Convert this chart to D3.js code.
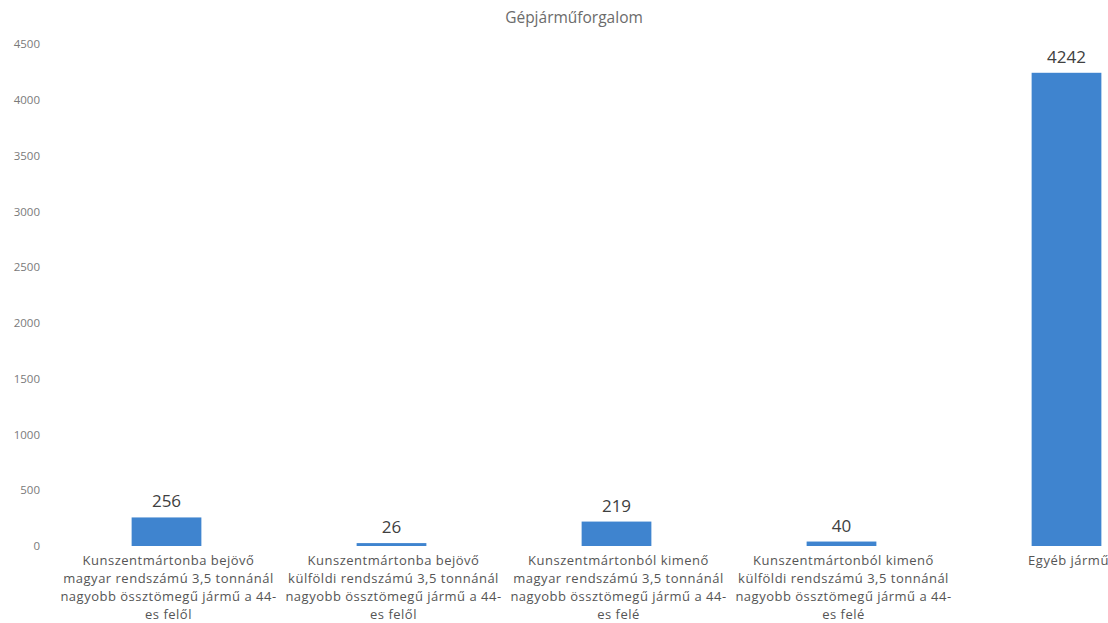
<!DOCTYPE html>
<html>
<head>
<meta charset="utf-8">
<script src="https://cdn.jsdelivr.net/npm/d3@7"></script>
<style>
  body { margin: 0; background: #fff; }
  text { font-family: "Open Sans", "Noto Sans", sans-serif; }
</style>
</head>
<body>
<svg id="chart" width="1108" height="623"></svg>
<script>
// Chart data
const categories = [
  ["Kunszentmártonba bejövő", "magyar rendszámú 3,5 tonnánál", "nagyobb össztömegű jármű a 44-", "es felől"],
  ["Kunszentmártonba bejövő", "külföldi rendszámú 3,5 tonnánál", "nagyobb össztömegű jármű a 44-", "es felől"],
  ["Kunszentmártonból kimenő", "magyar rendszámú 3,5 tonnánál", "nagyobb össztömegű jármű a 44-", "es felé"],
  ["Kunszentmártonból kimenő", "külföldi rendszámú 3,5 tonnánál", "nagyobb össztömegű jármű a 44-", "es felé"],
  ["Egyéb jármű"]
];
const values = [256, 26, 219, 40, 4242];
const yTicks = [0, 500, 1000, 1500, 2000, 2500, 3000, 3500, 4000, 4500];
const title = "Gépjárműforgalom";

const svg = d3.select("#chart");

// The scan crops off the right part of the last band
const x = d3.scaleBand()
  .domain(d3.range(values.length))
  .range([54, 1179])
  .paddingInner(0.69)
  .paddingOuter(0.345);

const y = d3.scaleLinear()
  .domain([0, 4500])
  .range([546, 44]);

// Title
svg.append("text")
  .attr("x", 574)
  .attr("y", 23)
  .attr("text-anchor", "middle")
  .style("font-size", "15.5px")
  .style("fill", "#6b6b6b")
  .text(title);

// Y axis (labels only, no line)
const yAxis = svg.append("g")
  .attr("transform", "translate(40,0)")
  .call(d3.axisLeft(y).tickValues(yTicks).tickFormat(d3.format("d")).tickSize(0).tickPadding(0));
yAxis.select(".domain").remove();
yAxis.selectAll("text")
  .style("font-family", "'Open Sans', sans-serif")
  .style("font-size", "11.5px")
  .style("fill", "#7a7a7a");

// Bars
svg.selectAll(".bar")
  .data(values)
  .enter()
  .append("rect")
  .attr("class", "bar")
  .attr("x", (d, i) => x(i))
  .attr("y", d => y(d))
  .attr("width", x.bandwidth())
  .attr("height", d => y(0) - y(d))
  .attr("fill", "#3f84cf");

// Value labels
svg.selectAll(".val")
  .data(values)
  .enter()
  .append("text")
  .attr("class", "val")
  .attr("x", (d, i) => x(i) + x.bandwidth() / 2)
  .attr("y", d => y(d) - 10)
  .attr("text-anchor", "middle")
  .style("font-size", "17px")
  .style("fill", "#404040")
  .text(d => d);

// Category labels (wrapped lines)
const catG = svg.selectAll(".cat")
  .data(categories)
  .enter()
  .append("text")
  .attr("class", "cat")
  .attr("text-anchor", "middle")
  .style("font-size", "13px")
  .style("letter-spacing", "0.5px")
  .style("fill", "#555");

catG.selectAll("tspan")
  .data((d, i) => d.map(line => ({ line, i })))
  .enter()
  .append("tspan")
  .attr("x", d => x(d.i) + x.bandwidth() / 2 + 2)
  .attr("y", (d, j) => 565 + j * 18)
  .text(d => d.line);
</script>
</body>
</html>
